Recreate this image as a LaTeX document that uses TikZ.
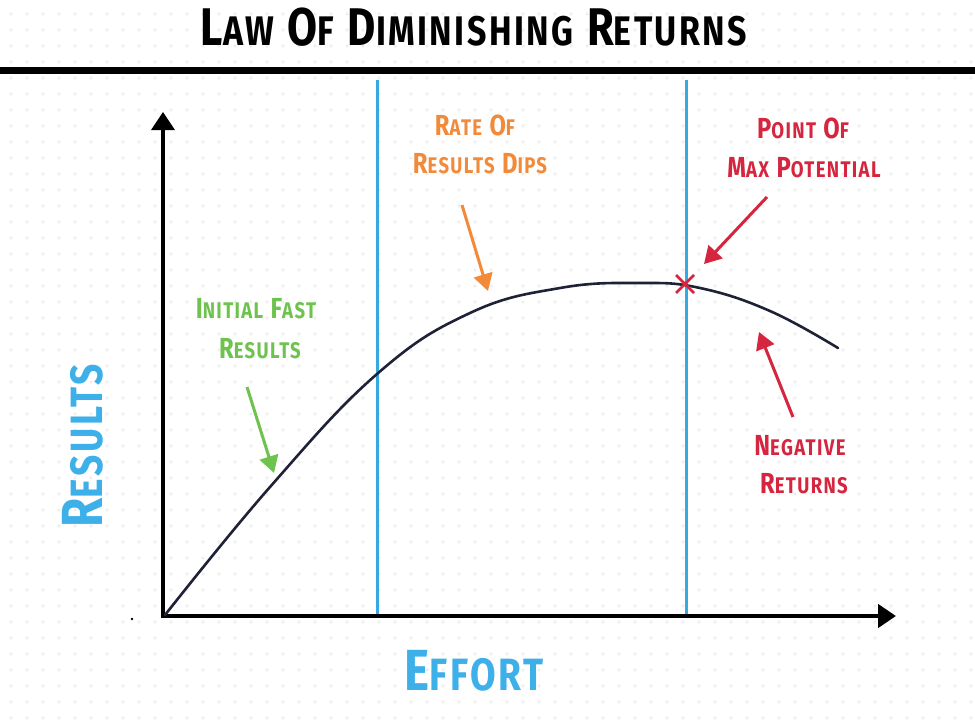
\documentclass[tikz,border=0pt]{standalone}
\usepackage{fontspec}
\setmainfont{Fira Sans}[FakeStretch=0.82, LetterSpace=6]
\usetikzlibrary{arrows.meta}
\definecolor{lineblue}{HTML}{36A9E1}
\definecolor{lblblue}{HTML}{3DB0EA}
\definecolor{lgreen}{HTML}{6EC34E}
\definecolor{lorange}{HTML}{F28A3A}
\definecolor{lred}{HTML}{D6263F}
\definecolor{curvec}{HTML}{1F2236}
\definecolor{dotc}{HTML}{EFEFEF}
\newcommand\capw[2]{#1\scalebox{0.78}{#2}}
\tikzset{
  lbl/.style={inner sep=0pt, anchor=base, font=\fontsize{29}{34}\selectfont\bfseries},
  big/.style={inner sep=0pt, anchor=base, font=\fontsize{58}{64}\selectfont\bfseries, text=lblblue},
  callout/.style={line width=3pt, -{Triangle[length=17pt,width=19pt]}},
  divider/.style={line width=3pt, lineblue},
  axis/.style={black, -{Triangle[length=18pt,width=23pt]}}
}
\begin{document}
\begin{tikzpicture}[x=1pt,y=-1pt]
\useasboundingbox (0,0) rectangle (975,726);
\fill[white] (0,0) rectangle (975,726);
% dotted background
\foreach \i in {0,...,61}{
  \foreach \j in {0,...,45}{
    \fill[dotc] (11+16*\i,14+16*\j) circle (1.8);
  }
}
% title
\node[inner sep=0pt, anchor=base, font=\fontsize{53}{60}\selectfont\bfseries] (title) at (474,45)
  {\capw{L}{AW} \capw{O}{F} \capw{D}{IMINISHING} \capw{R}{ETURNS}};
\fill[black] (0,66.5) rectangle (975,73.5);
% coordinates
\coordinate (O) at (163,616);
\coordinate (ytop) at (163,112);
\coordinate (xend) at (896,616);
\coordinate (b1top) at (377,80);
\coordinate (b1bot) at (377,616);
\coordinate (b2top) at (686,80);
\coordinate (b2bot) at (686,616);
% dividers
\draw[divider] (b1top) -- (b1bot);
\draw[divider] (b2top) -- (b2bot);
% axes
\draw[axis, line width=3.5pt] (163,618) -- (ytop);
\draw[axis, line width=4.5pt] (161,616) -- (xend);
\fill[black] (132,619) circle (1.4);
% curve
\draw[curvec, line width=2.6pt, line cap=round] plot[smooth, tension=0.7] coordinates {
  (165,615) (270,487) (377,374) (470,313) (560,288)
  (640,283) (700,288) (770,311) (838,348)};
% max point marker
\coordinate (maxpt) at (685,284);
\draw[lred, line width=2.5pt] ([shift={(-9,-9)}]maxpt) -- ([shift={(9,9)}]maxpt)
  ([shift={(-9,9)}]maxpt) -- ([shift={(9,-9)}]maxpt);
% green label
\node[lbl, text=lgreen] (g1) at (256,318) {\capw{I}{NITIAL} \capw{F}{AST}};
\node[lbl, text=lgreen] (g2) at (260,358) {\capw{R}{ESULTS}};
\coordinate (gs) at (247,387);
\coordinate (ge) at (274,473);
\draw[callout, lgreen] (gs) -- (ge);
% orange label
\node[lbl, text=lorange] (o1) at (475,135) {\capw{R}{ATE} \capw{O}{F}};
\node[lbl, text=lorange] (o2) at (480,173) {\capw{R}{ESULTS} \capw{D}{IPS}};
\coordinate (os) at (462,205);
\coordinate (oe) at (488,291);
\draw[callout, lorange] (os) -- (oe);
% red top label
\node[lbl, text=lred] (r1) at (803,138) {\capw{P}{OINT} \capw{O}{F}};
\node[lbl, text=lred] (r2) at (804,177) {\capw{M}{AX} \capw{P}{OTENTIAL}};
\coordinate (rs) at (767,197);
\coordinate (re) at (704,264);
\draw[callout, lred] (rs) -- (re);
% red bottom label
\node[lbl, text=lred] (n1) at (800,455) {\capw{N}{EGATIVE}};
\node[lbl, text=lred] (n2) at (804,493) {\capw{R}{ETURNS}};
\coordinate (ns) at (793,417);
\coordinate (ne) at (759,332);
\draw[callout, lred] (ns) -- (ne);
% axis labels
\node[big] (effort) at (474,690) {\capw{E}{FFORT}};
\node[big, rotate=90] (results) at (102,446) {\capw{R}{ESULTS}};
\end{tikzpicture}
\end{document}
